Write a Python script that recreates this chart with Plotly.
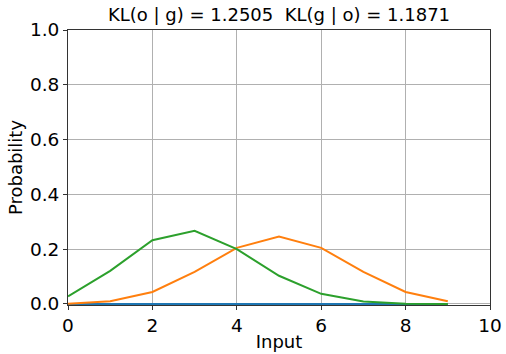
import plotly.graph_objects as go

x_vals = [0, 1, 2, 3, 4, 5, 6, 7, 8, 9]
blue_vals = [0, 0, 0, 0, 0, 0, 0, 0, 0, 0]
orange_vals = [0.001, 0.010, 0.044, 0.117, 0.205, 0.246, 0.205, 0.117, 0.044, 0.010]
green_vals = [0.028, 0.121, 0.233, 0.267, 0.200, 0.103, 0.037, 0.009, 0.001, 0.000]
title_text = "KL(o | g) = 1.2505\u00a0 KL(g | o) = 1.1871"
x_ticks = [0, 2, 4, 6, 8, 10]
y_ticks = [0.0, 0.2, 0.4, 0.6, 0.8, 1.0]

font = "DejaVu Sans"
L, R, T, B = 68, 16, 30, 49
fig = go.Figure()
for vals, col in [(blue_vals, "#1f77b4"), (orange_vals, "#ff7f0e"), (green_vals, "#2ca02c")]:
    fig.add_trace(go.Scatter(x=x_vals, y=vals, mode="lines", cliponaxis=False,
                             line=dict(color=col, width=2), showlegend=False))

fig.update_layout(
    width=506, height=354,
    margin=dict(l=L, r=R, t=T, b=B, autoexpand=False),
    paper_bgcolor="white", plot_bgcolor="white",
    font=dict(family=font, size=18.5, color="black"),
    title=dict(text=title_text, x=(L + (506 - L - R) / 2) / 506,
               xanchor="center", y=1 - 15 / 354, yanchor="middle",
               font=dict(family=font, size=18, color="black")),
)
fig.update_xaxes(range=[0, 10], tickvals=x_ticks, ticktext=[str(t) for t in x_ticks],
                 showline=True, mirror=True, linecolor="#333333", linewidth=1,
                 ticks="outside", ticklen=4, tickcolor="#333333", layer="below traces",
                 showgrid=True, gridcolor="#b0b0b0", gridwidth=1, zeroline=False,
                 automargin=False,
                 title=dict(text="Input", standoff=0, font=dict(size=18)),
                 tickfont=dict(size=18.5))
fig.update_yaxes(range=[-0.0037, 1], tickvals=y_ticks, ticktext=[f"{t:.1f}" for t in y_ticks],
                 showline=True, mirror=True, linecolor="#333333", linewidth=1,
                 ticks="outside", ticklen=4, tickcolor="#333333", layer="below traces",
                 showgrid=True, gridcolor="#b0b0b0", gridwidth=1, zeroline=False,
                 automargin=False,
                 title=dict(text="Probability", standoff=2, font=dict(size=18)),
                 tickfont=dict(size=18.5))
fig.write_html("out.html", config={"displayModeBar": False})

with open("out.html", "r", encoding="utf-8") as f:
    html = f.read()
html = html.replace("<head>", "<head><style>html,body{margin:0;padding:0;overflow:hidden;}</style>", 1)
with open("out.html", "w", encoding="utf-8") as f:
    f.write(html)
